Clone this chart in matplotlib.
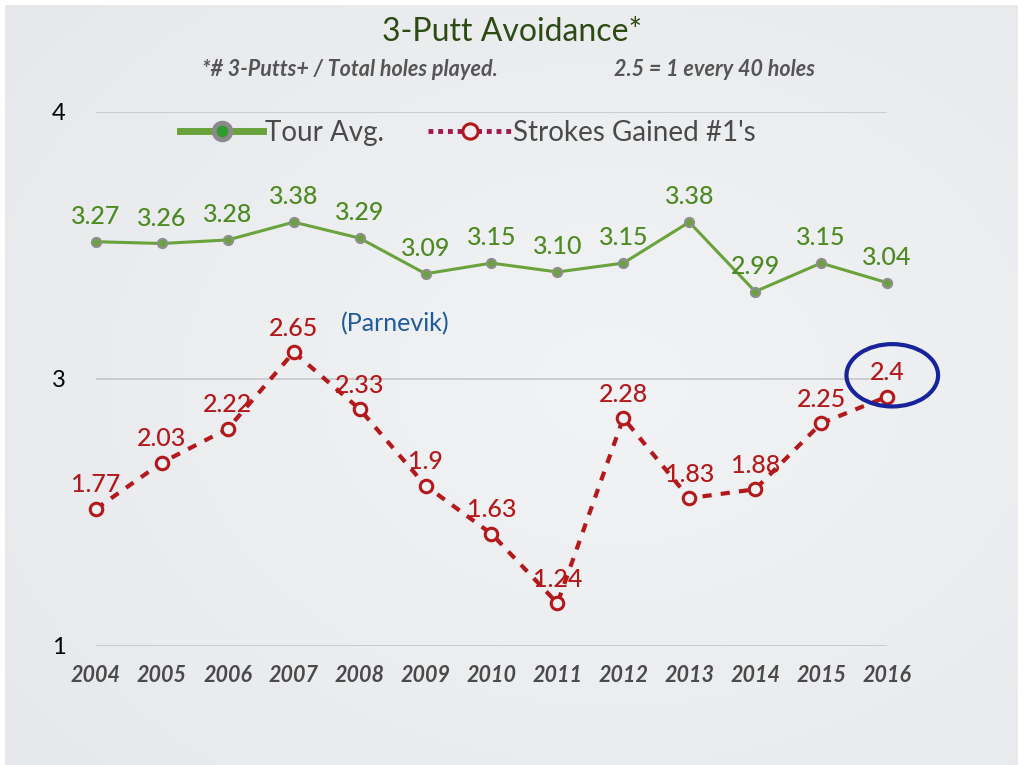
import matplotlib
matplotlib.use("Agg")
import matplotlib.pyplot as plt
import numpy as np
from matplotlib.patches import Ellipse
from matplotlib.lines import Line2D

years = [2004, 2005, 2006, 2007, 2008, 2009, 2010, 2011, 2012, 2013, 2014, 2015, 2016]
tour_avg = [3.27, 3.26, 3.28, 3.38, 3.29, 3.09, 3.15, 3.10, 3.15, 3.38, 2.99, 3.15, 3.04]
sg_leader = [1.77, 2.03, 2.22, 2.65, 2.33, 1.90, 1.63, 1.24, 2.28, 1.83, 1.88, 2.25, 2.40]
tour_labels = ["3.27", "3.26", "3.28", "3.38", "3.29", "3.09", "3.15", "3.10", "3.15", "3.38", "2.99", "3.15", "3.04"]
sg_labels = ["1.77", "2.03", "2.22", "2.65", "2.33", "1.9", "1.63", "1.24", "2.28", "1.83", "1.88", "2.25", "2.4"]
y_ticks = [1, 2.5, 4]
y_tick_labels = ["1", "3", "4"]

plt.rcParams['font.family'] = ['Lato', 'DejaVu Sans']

fig = plt.figure(figsize=(10.24, 7.65), dpi=100)
fig.patch.set_facecolor('white')
# slide background
bg = fig.add_axes([0, 0, 1, 1], zorder=-10)
bg.set_axis_off()
grad = np.linspace(0, 1, 256)
X, Y = np.meshgrid(grad, grad)
Z = 1 - np.sqrt((X - 0.6) ** 2 + (Y - 0.5) ** 2)
bg.imshow(Z, cmap=matplotlib.colors.LinearSegmentedColormap.from_list('g', ['#e6e8eb', '#f2f3f5']),
          extent=[5 / 1024, 1018 / 1024, 0, 1 - 5 / 765], aspect='auto', transform=bg.transAxes)
bg.set_xlim(0, 1)
bg.set_ylim(0, 1)

ax = fig.add_axes([96 / 1024, 1 - 646 / 765, 791 / 1024, (646 - 111.7) / 765])
ax.patch.set_alpha(0)
ax.set_xlim(2004, 2016)
ax.set_ylim(1, 4)
for s in ax.spines.values():
    s.set_visible(False)
ax.set_yticks(y_ticks)
ax.set_yticklabels(y_tick_labels, fontsize=17, color='black')
ax.set_xticks(years)
ax.set_xticklabels([str(y) for y in years], fontsize=15.5, color='#4a4a4a', style='italic', fontweight='bold')
ax.tick_params(axis='both', length=0)
ax.tick_params(axis='y', pad=22)
ax.tick_params(axis='x', pad=14)
ax.grid(axis='y', color='#c4c6c9', linewidth=1.2)
ax.set_axisbelow(True)

green = '#6aa23c'
dgreen = '#4e8a22'
red = '#b3181b'

ax.plot(years, tour_avg, color=green, linewidth=2.2, marker='o', markersize=6.5,
        markerfacecolor=green, markeredgecolor='#8e8e8e', markeredgewidth=1.6, clip_on=False, zorder=3)
ax.plot(years, sg_leader, color=red, linewidth=3, linestyle=(0, (2.2, 2.2)), marker='o', markersize=9,
        markerfacecolor='#eef0f2', markeredgecolor=red, markeredgewidth=2.2, clip_on=False, zorder=3)

for x, y, lab in zip(years, tour_avg, tour_labels):
    ax.annotate(lab, (x, y), xytext=(0, 10), textcoords='offset points', ha='center', va='bottom',
                fontsize=18, color=dgreen, fontweight='medium')
for x, y, lab in zip(years, sg_leader, sg_labels):
    ax.annotate(lab, (x, y), xytext=(0, 9), textcoords='offset points', ha='center', va='bottom',
                fontsize=18, color=red, fontweight='medium')

ax.text(2008.54, 2.81, "(Parnevik)", fontsize=18, color='#1f5a9a', ha='center', va='center')
ell = Ellipse((2016.08, 2.52), width=1.39, height=0.35, fill=False, edgecolor='#16239a', linewidth=3,
              clip_on=False, zorder=5)
ax.add_patch(ell)

handles = [Line2D([], [], color=green, linewidth=5, marker='o', markersize=12, markerfacecolor='#2f9a2f',
                  markeredgecolor='#8a8a8a', markeredgewidth=3.5),
           Line2D([], [], color='#a01850', linewidth=3.5, linestyle=(0, (1, 1)), marker='o', markersize=11,
                  markerfacecolor='#eef0f2', markeredgecolor=red, markeredgewidth=2.2)]
leg = ax.legend(handles, ["Tour Avg.", "Strokes Gained #1's"], loc='center', bbox_to_anchor=(0.47, 0.96),
                ncol=2, frameon=False, fontsize=20, handlelength=3.0, handletextpad=0.05, columnspacing=1.6)
for t in leg.get_texts():
    t.set_color('#4a4a4a')

fig.text(0.5, 1 - 32 / 765, "3-Putt Avoidance*", ha='center', va='center', fontsize=23, color='#2c4a12')
fig.text(350 / 1024, 1 - 70 / 765, "*# 3-Putts+ / Total holes played.", ha='center', va='center',
         fontsize=15.5, color='#555555', style='italic', fontweight='bold')
fig.text(715 / 1024, 1 - 70 / 765, "2.5 = 1 every 40 holes", ha='center', va='center',
         fontsize=15.5, color='#555555', style='italic', fontweight='bold')

fig.savefig('out.png', dpi=100, facecolor=fig.get_facecolor())
